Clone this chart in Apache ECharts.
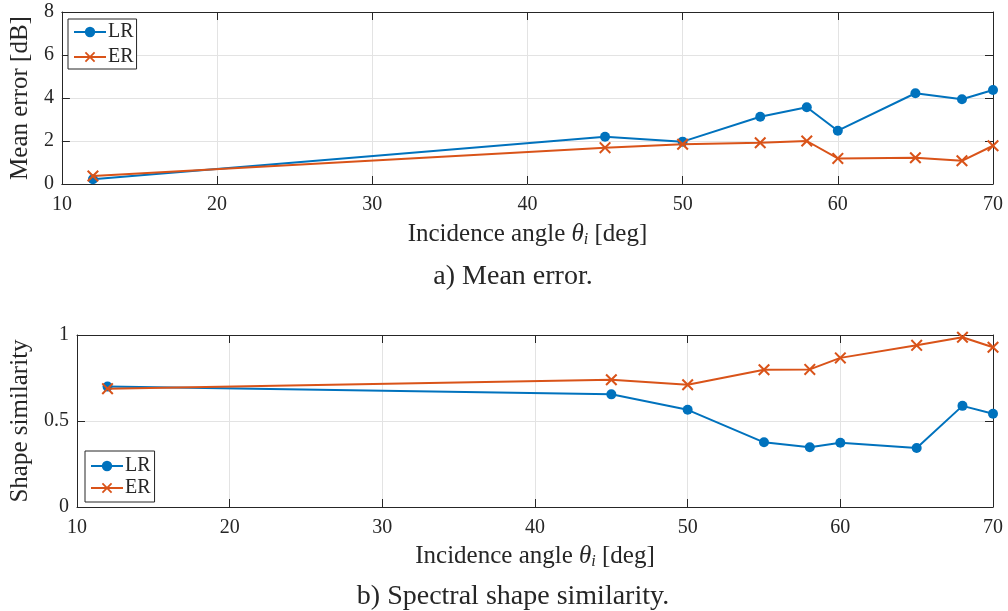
<!DOCTYPE html>
<html>
<head>
<meta charset="utf-8">
<script src="https://cdn.jsdelivr.net/npm/echarts@6/dist/echarts.min.js"></script>
<style>
html,body{margin:0;padding:0;background:#fff;}
#main{width:1008px;height:611px;}
</style>
</head>
<body>
<div id="main"></div>
<script>
// ---- data ----
const angles = [12, 45, 50, 55, 58, 60, 65, 68, 70];
const meanErrLR = [0.22, 2.2, 1.97, 3.13, 3.57, 2.48, 4.22, 3.94, 4.37];
const meanErrER = [0.37, 1.69, 1.85, 1.92, 2.0, 1.19, 1.22, 1.08, 1.78];
const simLR = [0.70, 0.655, 0.565, 0.376, 0.347, 0.374, 0.343, 0.588, 0.542];
const simER = [0.688, 0.74, 0.711, 0.798, 0.80, 0.867, 0.94, 0.987, 0.929];
const seriesNames = ['LR', 'ER'];
const captionA = 'a) Mean error.';
const captionB = 'b) Spectral shape similarity.';
const xLabel = '{a|Incidence angle }{b|θ}{c|i}{a| [deg]}';

const BLUE = '#0072BD', ORANGE = '#D95319', AX = '#262626', GRID = '#e3e3e3';
const FONT = '"Liberation Serif", "DejaVu Serif", serif';
const XPATH = 'path://M0,1.2L1.2,0L5,3.8L8.8,0L10,1.2L6.2,5L10,8.8L8.8,10L5,6.2L1.2,10L0,8.8L3.8,5Z';

function pairs(xs, ys){ return xs.map((x,i)=>[x, ys[i]]); }

const nameRich = {
  a:{fontFamily:FONT, fontSize:25, color:AX},
  b:{fontFamily:FONT, fontSize:25, fontStyle:'italic', color:AX},
  c:{fontFamily:FONT, fontSize:16, fontStyle:'italic', color:AX, verticalAlign:'bottom', padding:[12,0,0,0]}
};

function mainX(gi, gap){
  return {gridIndex:gi, type:'value', min:10, max:70, interval:10, position:'bottom',
    name:xLabel, nameLocation:'middle', nameGap:gap, nameTextStyle:{rich:nameRich},
    axisLine:{show:true, lineStyle:{color:AX, width:1}},
    axisTick:{show:true, inside:true, length:8, lineStyle:{color:AX}},
    axisLabel:{fontFamily:FONT, fontSize:20, color:AX, margin:11},
    splitLine:{show:true, lineStyle:{color:GRID, width:1}}};
}
function topX(gi){
  return {gridIndex:gi, type:'value', min:10, max:70, interval:10, position:'top',
    axisLine:{show:true, onZero:false, lineStyle:{color:AX, width:1}},
    axisTick:{show:true, inside:true, length:8, lineStyle:{color:AX}},
    axisLabel:{show:false}, splitLine:{show:false}};
}
function mainY(gi, max, interval, name, gap){
  return {gridIndex:gi, type:'value', min:0, max:max, interval:interval, position:'left',
    name:name, nameLocation:'middle', nameGap:gap, nameRotate:90,
    nameTextStyle:{fontFamily:FONT, fontSize:25, color:AX},
    axisLine:{show:true, onZero:false, lineStyle:{color:AX, width:1}},
    axisTick:{show:true, inside:true, length:8, lineStyle:{color:AX}},
    axisLabel:{fontFamily:FONT, fontSize:20, color:AX, margin:8},
    splitLine:{show:true, lineStyle:{color:GRID, width:1}}};
}
function rightY(gi, max, interval){
  return {gridIndex:gi, type:'value', min:0, max:max, interval:interval, position:'right',
    axisLine:{show:true, onZero:false, lineStyle:{color:AX, width:1}},
    axisTick:{show:true, inside:true, length:8, lineStyle:{color:AX}},
    axisLabel:{show:false}, splitLine:{show:false}};
}
function lr(xi, yi, ys){
  return {name:seriesNames[0], type:'line', xAxisIndex:xi, yAxisIndex:yi, data:pairs(angles, ys),
    symbol:'circle', symbolSize:10, lineStyle:{color:BLUE, width:2}, itemStyle:{color:BLUE},
    z:3, animation:false};
}
function er(xi, yi, ys){
  return {name:seriesNames[1], type:'line', xAxisIndex:xi, yAxisIndex:yi, data:pairs(angles, ys),
    symbol:XPATH, symbolSize:12, lineStyle:{color:ORANGE, width:2}, itemStyle:{color:ORANGE},
    z:4, animation:false};
}
function legend(left, top, gap, pad){
  return {orient:'vertical', left:left, top:top, data:seriesNames, itemWidth:32, itemHeight:13,
    itemGap:gap, padding:pad, backgroundColor:'#fff', borderColor:AX, borderWidth:1, borderRadius:0,
    textStyle:{fontFamily:FONT, fontSize:20, color:AX, lineHeight:19, padding:[0,0,0,-3]},
    selectedMode:false};
}

const chart = echarts.init(document.getElementById('main'), null, {renderer:'canvas'});
chart.setOption({
  backgroundColor:'#fff',
  animation:false,
  grid:[
    {left:61, right:15, top:12, height:172},
    {left:77, right:15, top:335, height:172}
  ],
  xAxis:[mainX(0, 36), topX(0), mainX(1, 35), topX(1)],
  yAxis:[mainY(0, 8, 2, 'Mean error [dB]', 26), rightY(0, 8, 2),
         mainY(1, 1, 0.5, 'Shape similarity', 42), rightY(1, 1, 0.5)],
  legend:[legend(68, 19, 5, [3,3,2,5]), legend(85, 451, 2, [5,4,4,5])],
  series:[lr(0,0,meanErrLR), er(0,0,meanErrER), lr(2,2,simLR), er(2,2,simER)],
  graphic:[
    {type:'text', x:513, y:263, style:{text:captionA, font:'28px '+FONT, fill:AX, textAlign:'center'}},
    {type:'text', x:513, y:583, style:{text:captionB, font:'28px '+FONT, fill:AX, textAlign:'center'}}
  ]
});
</script>
</body>
</html>
